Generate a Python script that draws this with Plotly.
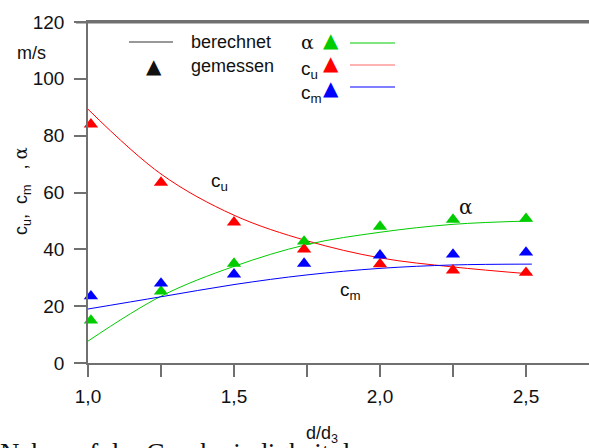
import plotly.graph_objects as go

# ---------------- data ----------------
x_meas = [1.01, 1.25, 1.5, 1.74, 2.0, 2.25, 2.5]
cu_meas = [84.0, 63.5, 49.5, 40.0, 34.8, 32.6, 31.8]
alpha_meas = [15.0, 25.2, 35.0, 42.8, 48.0, 50.5, 50.8]
cm_meas = [23.5, 28.0, 31.2, 35.0, 37.9, 38.2, 38.9]

x_calc = [1.0, 1.25, 1.5, 1.75, 2.0, 2.25, 2.52]
cu_calc = [89.3, 66.5, 52.0, 43.0, 37.0, 33.8, 31.3]
alpha_calc = [7.7, 23.5, 34.0, 41.7, 46.0, 48.8, 50.0]
cm_calc = [19.0, 23.3, 27.6, 31.0, 33.3, 34.5, 34.8]

x_tickvals = [1.0, 1.25, 1.5, 1.75, 2.0, 2.25, 2.5, 2.75]
x_ticktext = ["1,0", "", "1,5", "", "2,0", "", "2,5", ""]
y_tickvals = [0, 20, 40, 60, 80, 100, 120]

RED = "#ff0000"
GREEN = "#00cc00"
BLUE = "#0000ff"
AXC = "#707070"
FONT = "Liberation Sans, Arial, sans-serif"
SERIF = "DejaVu Serif, serif"

W, H = 589, 448
ML, MR, MT, MB = 88, 0, 22, 85
PW, PH = W - ML - MR, H - MT - MB


def px(xp):
    return (xp - ML) / PW


def py(yp):
    return (H - MB - yp) / PH


fig = go.Figure()

for xs, ys, col in [(x_calc, cu_calc, RED), (x_calc, alpha_calc, GREEN), (x_calc, cm_calc, BLUE)]:
    fig.add_trace(go.Scatter(x=xs, y=ys, mode="lines", line=dict(color=col, width=1, shape="spline"),
                             showlegend=False, hoverinfo="skip"))

for ys, col in [(cu_meas, RED), (alpha_meas, GREEN), (cm_meas, BLUE)]:
    fig.add_trace(go.Scatter(x=x_meas, y=ys, mode="markers", cliponaxis=False,
                             marker=dict(symbol="triangle-up", size=12.5, color=col, line=dict(width=0)),
                             showlegend=False))

axis_common = dict(showline=True, linecolor=AXC, linewidth=1.6, ticks="outside", ticklen=12,
                   tickwidth=1.6, tickcolor=AXC, showgrid=False, zeroline=False,
                   tickfont=dict(family=FONT, size=19, color="#111111"))

fig.update_xaxes(range=[1.0, 1.0 + PW / 292.0], tickvals=x_tickvals, ticktext=x_ticktext,
                 mirror=True, ticklabelstandoff=3, **axis_common)
fig.update_yaxes(range=[0, 120], tickvals=y_tickvals, ticklabelstandoff=6, **axis_common)

ann = []


def text(xp, yp, s, size=19, xanchor="center", yanchor="middle", family=FONT, angle=0):
    ann.append(dict(x=px(xp), y=py(yp), xref="paper", yref="paper", text=s, showarrow=False,
                    xanchor=xanchor, yanchor=yanchor, textangle=angle,
                    font=dict(family=family, size=size, color="#111111")))


# axis titles
text(31, 53, "m/s", size=18)
text(22, 191, "c<sub>u</sub>,&nbsp;&nbsp;c<sub>m</sub>&nbsp;&nbsp;&nbsp;,&nbsp;"
              "<span style='font-family:DejaVu Serif'>α</span>", size=18, angle=-90)
text(322, 434, "d/d<sub>3</sub>", size=18)

# in-plot labels
text(219, 182, "c<sub>u</sub>", size=19)
text(466, 207, "α", size=20, family=SERIF)
text(350, 291, "c<sub>m</sub>", size=19)

# legend texts
text(189, 42, "berechnet", size=18, xanchor="left")
text(189, 66, "gemessen", size=18, xanchor="left")
text(307, 42, "α", size=19, family=SERIF)
text(309, 70, "c<sub>u</sub>", size=19)
text(311, 94, "c<sub>m</sub>", size=19)
text(154, 66, "▲", size=20, family="DejaVu Sans")
text(331, 40, "<span style='color:#00cc00'>▲</span>", size=20, family="DejaVu Sans")
text(331, 63, "<span style='color:#ff0000'>▲</span>", size=20, family="DejaVu Sans")
text(331, 88, "<span style='color:#0000ff'>▲</span>", size=20, family="DejaVu Sans")

# cut-off text of the page below
ann.append(dict(x=px(-2), y=py(436), xref="paper", yref="paper", text="Nabe auf der Geschwindigkeit d",
                showarrow=False, xanchor="left", yanchor="top",
                font=dict(family="Liberation Serif, serif", size=27, color="#111111")))

shapes = [dict(type="line", xref="paper", yref="paper", x0=px(76), x1=1, y0=py(22.5), y1=py(22.5),
               line=dict(color=AXC, width=2), layer="above")]
for x0, x1, yp, col in [(129, 173, 42, "#333333"), (350, 395, 43, GREEN), (350, 395, 65, "#ff6666"),
                        (350, 395, 87, BLUE)]:
    shapes.append(dict(type="line", xref="paper", yref="paper", x0=px(x0), x1=px(x1), y0=py(yp), y1=py(yp),
                       line=dict(color=col, width=1)))

fig.update_layout(width=W, height=H, margin=dict(l=ML, r=MR, t=MT, b=MB, autoexpand=False),
                  paper_bgcolor="white", plot_bgcolor="white", annotations=ann, shapes=shapes,
                  font=dict(family=FONT))

fig.write_html("out.html", config={"displayModeBar": False},
               post_script="document.body.style.margin='0';document.body.style.overflow='hidden';")
